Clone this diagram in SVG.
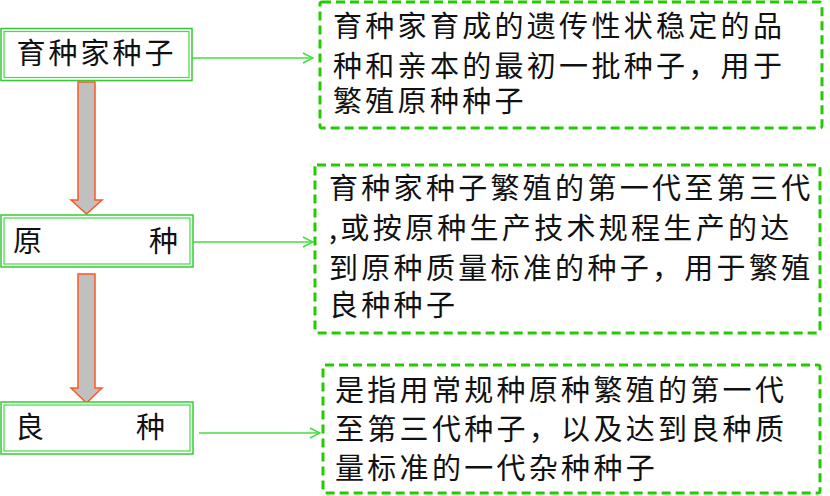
<svg xmlns="http://www.w3.org/2000/svg" width="830" height="496" viewBox="0 0 830 496">
<style>
.outer{fill:#fff;stroke:#33cc33;stroke-width:1.5}
.inner{fill:none;stroke:#44dd44;stroke-width:1.2}
.dash{fill:#fff;stroke:#22cc00;stroke-width:3;stroke-dasharray:9 5}
.t{font-family:"Noto Sans CJK SC","Liberation Serif",serif;font-size:29px;fill:#111;letter-spacing:3.3px}
.n{font-family:"Noto Sans CJK SC","Liberation Serif",serif;font-size:29px;fill:#111}
.conn{stroke:#44dd44;stroke-width:1.5;fill:none}
.big{fill:#c0c0c0;stroke:#ff5522;stroke-width:1.5}
</style>
<defs>
<marker id="ah" viewBox="0 0 12 12" refX="11" refY="6" markerWidth="12" markerHeight="12" markerUnits="userSpaceOnUse" orient="auto">
<path d="M1,1 L11,6 L1,11" fill="none" stroke="#44dd44" stroke-width="1.5"/>
</marker>
</defs>
<rect width="830" height="496" fill="#fff"/>
<g id="connectors">
<line class="conn" x1="192" y1="58" x2="313" y2="58" marker-end="url(#ah)"/>
<line class="conn" x1="193" y1="242" x2="313" y2="242" marker-end="url(#ah)"/>
<line class="conn" x1="199" y1="433" x2="320" y2="433" marker-end="url(#ah)"/>
<path class="big" d="M78,82 H95 V200 H102 L86.5,214 L71,200 H78 Z"/>
<path class="big" d="M78,274 H95 V388 H102 L86.5,403 L71,388 H78 Z"/>
</g>
<g id="n1">
<rect class="outer" x="1" y="28.5" width="191" height="52"/>
<rect class="inner" x="4" y="31.5" width="185" height="46"/>
<text class="n" x="96.5" y="63.5" text-anchor="middle" letter-spacing="3">育种家种子</text>
</g>
<g id="n2">
<rect class="outer" x="1" y="215" width="192" height="52"/>
<rect class="inner" x="4" y="218" width="186" height="46"/>
<text class="n" x="13" y="252">原</text>
<text class="n" x="149" y="252">种</text>
</g>
<g id="n3">
<rect class="outer" x="1" y="402" width="192" height="52"/>
<rect class="inner" x="4" y="405" width="186" height="46"/>
<text class="n" x="15" y="438">良</text>
<text class="n" x="136" y="438">种</text>
</g>
<g id="d1">
<rect class="dash" x="320" y="2" width="502" height="126" rx="2"/>
<text class="t" x="333" y="37">育种家育成的遗传性状稳定的品</text>
<text class="t" x="333" y="77">种和亲本的最初一批种子，用于</text>
<text class="t" x="333" y="112">繁殖原种种子</text>
</g>
<g id="d2">
<rect class="dash" x="315" y="165" width="505" height="168" rx="2"/>
<text class="t" x="329" y="199">育种家种子繁殖的第一代至第三代</text>
<text class="t" x="329" y="239">,或按原种生产技术规程生产的达</text>
<text class="t" x="329" y="279">到原种质量标准的种子，用于繁殖</text>
<text class="t" x="329" y="316">良种种子</text>
</g>
<g id="d3">
<rect class="dash" x="323" y="365" width="497" height="128" rx="2"/>
<text class="t" x="335" y="401">是指用常规种原种繁殖的第一代</text>
<text class="t" x="335" y="440">至第三代种子，以及达到良种质</text>
<text class="t" x="335" y="479">量标准的一代杂种种子</text>
</g>
</svg>
